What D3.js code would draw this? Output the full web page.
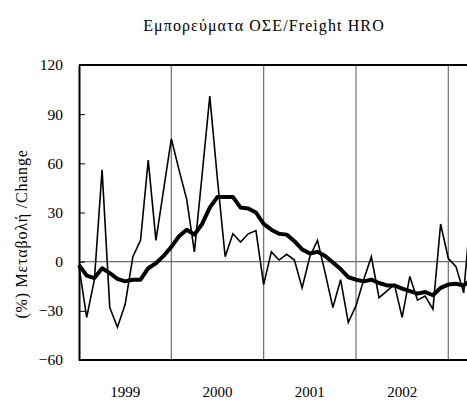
<!DOCTYPE html>
<html>
<head>
<meta charset="utf-8">
<script src="https://cdn.jsdelivr.net/npm/d3@7"></script>
<style>
  body { margin: 0; background: #fff; }
  svg { display: block; }
  text { font-family: "Liberation Serif", "Times New Roman", serif; }
</style>
</head>
<body>
<script>
// monthly % change, Jan 1999 onwards
const monthly = [-3, -34, -11, 56, -28, -40, -26, 3, 13, 62, 13, 44,
  75, 56, 38, 6, 53, 101, 50, 3, 17, 12, 17, 19,
  -14, 6, 1, 4.5, 1, -16, 3, 13, -7, -28, -11, -37,
  -27, -11, 3, -22, -18, -14, -34, -9, -23.5, -21, -29, 23,
  2, -3, -19, 35];
// moving average (thick line)
const average = [-2, -8.5, -10, -4, -7, -10.5, -12, -11, -11, -4, -1, 3.5,
  9, 15.5, 19.5, 16.5, 23, 33, 39.5, 39.5, 39.5, 33, 32.5, 30,
  23, 19.5, 17, 16.5, 12.5, 7.5, 5, 6, 3.5, -0.5, -4.5, -9.5,
  -11, -12, -11, -13, -14.5, -14.5, -16.5, -18, -19.5, -18.5, -20.5, -16,
  -14, -13.5, -14.5, -11];
const years = ["1999", "2000", "2001", "2002"];
const yTicks = [-60, -30, 0, 30, 60, 90, 120];

const w = 467, h = 401;
const plotLeft = 79, plotTop = 65, plotBottom = 360;

const svg = d3.select("body").append("svg")
  .attr("width", w)
  .attr("height", h);

const x = d3.scaleLinear().domain([0, 48]).range([plotLeft, 448.3]);
const y = d3.scaleLinear().domain([-60, 120]).range([plotBottom, plotTop]);
const plotRight = x(60);

// year separators
svg.selectAll("line.year")
  .data(d3.range(1, years.length + 1))
  .enter()
  .append("line")
  .attr("class", "year")
  .attr("x1", d => x(d * 12))
  .attr("x2", d => x(d * 12))
  .attr("y1", plotTop)
  .attr("y2", plotBottom)
  .attr("stroke", "#6e6e6e")
  .attr("stroke-width", 1.2);

// zero line
svg.append("line")
  .attr("x1", plotLeft).attr("x2", plotRight)
  .attr("y1", y(0)).attr("y2", y(0))
  .attr("stroke", "#6e6e6e")
  .attr("stroke-width", 1.2);

// frame top + bottom
svg.append("line")
  .attr("x1", plotLeft).attr("x2", plotRight)
  .attr("y1", plotTop).attr("y2", plotTop)
  .attr("stroke", "#000").attr("stroke-width", 2);
svg.append("line")
  .attr("x1", plotLeft).attr("x2", plotRight)
  .attr("y1", plotBottom).attr("y2", plotBottom)
  .attr("stroke", "#000").attr("stroke-width", 2);

// y axis
const yAxis = d3.axisLeft(y)
  .tickValues(yTicks)
  .tickSizeInner(-6)
  .tickSizeOuter(0)
  .tickPadding(16);
const ga = svg.append("g")
  .attr("transform", `translate(${plotLeft},0)`)
  .call(yAxis);
ga.select(".domain").attr("stroke", "#000").attr("stroke-width", 2);
ga.selectAll(".tick line").attr("stroke", "#000").attr("stroke-width", 1);
ga.selectAll(".tick text")
  .attr("font-family", "Liberation Serif, serif")
  .attr("font-size", 15.5)
  .attr("fill", "#000");

// year labels
svg.selectAll("text.yl")
  .data(years)
  .enter()
  .append("text")
  .attr("class", "yl")
  .attr("x", (d, i) => x(i * 12 + 6))
  .attr("y", 397)
  .attr("text-anchor", "middle")
  .attr("font-size", 15)
  .text(d => d);

// series
const line = d3.line()
  .x((d, i) => x(i))
  .y(d => y(d));

svg.append("path")
  .datum(monthly)
  .attr("d", line)
  .attr("fill", "none")
  .attr("stroke", "#000")
  .attr("stroke-width", 1.6)
  .attr("stroke-linejoin", "miter");

svg.append("path")
  .datum(average)
  .attr("d", line)
  .attr("fill", "none")
  .attr("stroke", "#000")
  .attr("stroke-width", 4)
  .attr("stroke-linejoin", "round");

// title
svg.append("text")
  .attr("x", 264)
  .attr("y", 31)
  .attr("text-anchor", "middle")
  .attr("font-size", 16)
  .attr("letter-spacing", 1.1)
  .text("Εμπορεύματα ΟΣΕ/Freight HRO");

// y label
svg.append("text")
  .attr("transform", "translate(27,234) rotate(-90)")
  .attr("text-anchor", "middle")
  .attr("font-size", 16)
  .attr("letter-spacing", 0.8)
  .text("(%) Μεταβολή /Change");
</script>
</body>
</html>
